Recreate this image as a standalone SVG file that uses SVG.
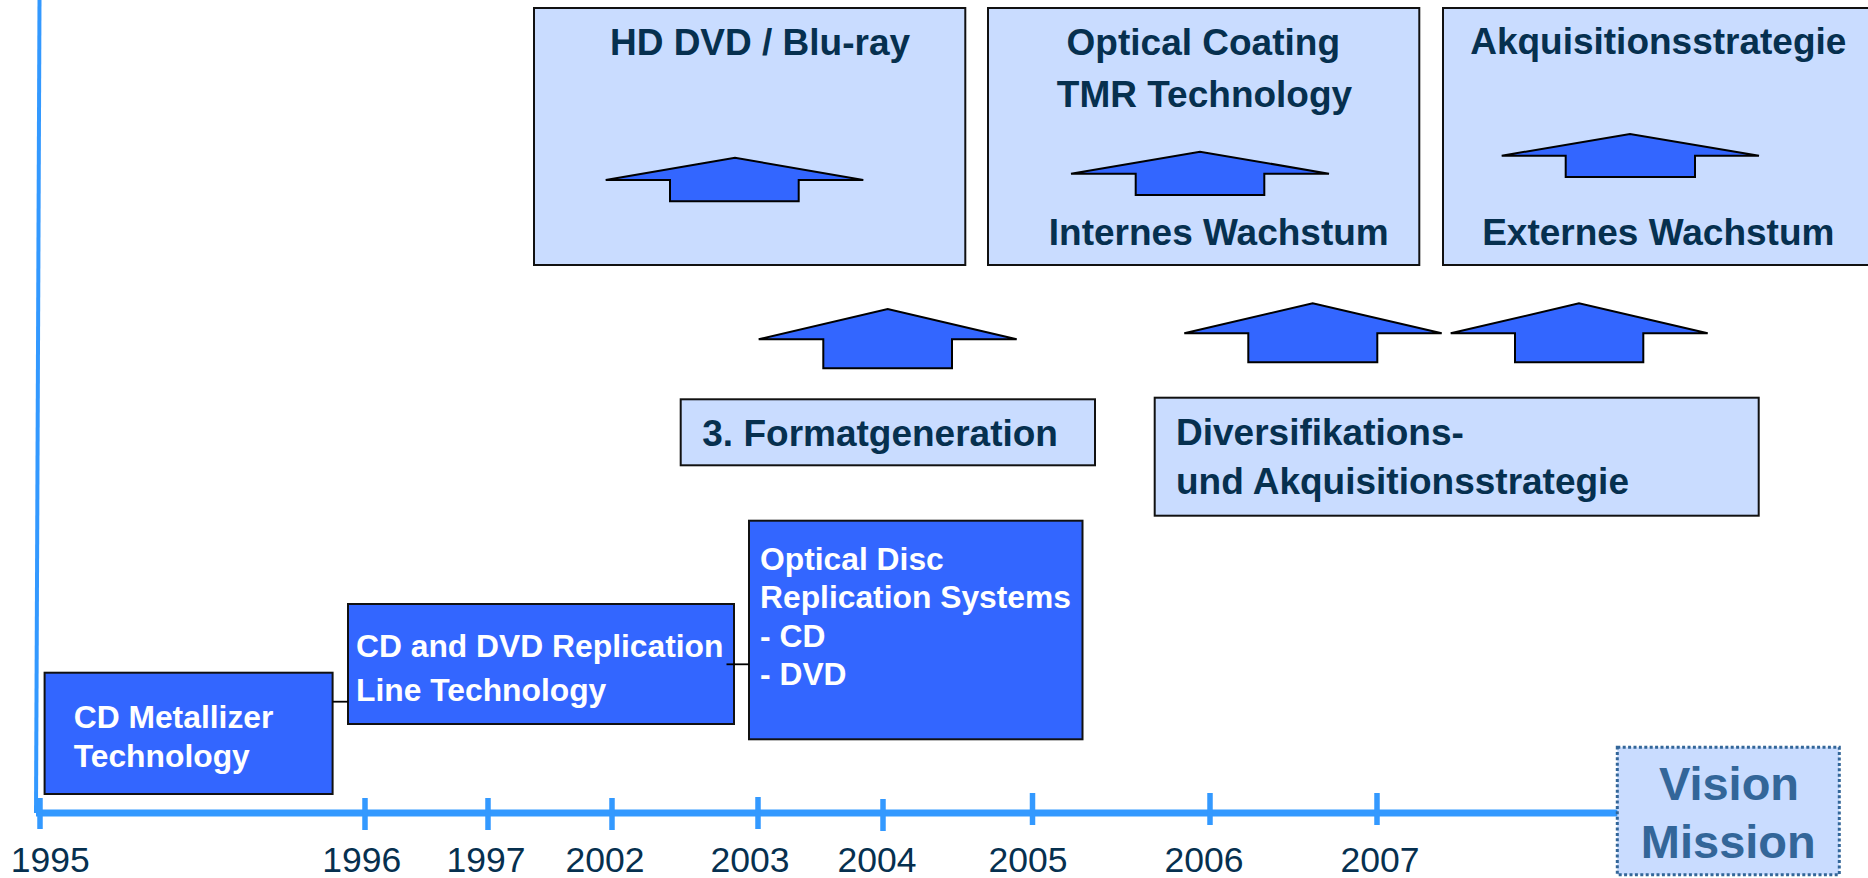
<svg xmlns="http://www.w3.org/2000/svg" width="1868" height="878" viewBox="0 0 1868 878">
<style>
.dark{fill:#3366FF;stroke:#111;stroke-width:2}
.light{fill:#C9DCFF;stroke:#111;stroke-width:2}
.arrow{fill:#3366FF;stroke:#000;stroke-width:2;stroke-linejoin:miter}
.wt{font-family:"Liberation Sans",Arial,sans-serif;font-weight:bold;font-size:31.8px;fill:#FFFFFF}
.nt{font-family:"Liberation Sans",Arial,sans-serif;font-weight:bold;font-size:37px;fill:#06304F}
.yr{font-family:"Liberation Sans",Arial,sans-serif;font-size:35.5px;fill:#06304F;text-anchor:middle}
.vm{font-family:"Liberation Sans",Arial,sans-serif;font-weight:bold;font-size:47px;fill:#336699;text-anchor:middle}
.tick{stroke:#3399FF;stroke-width:5.5}
.conn{stroke:#000;stroke-width:1.8;fill:none}
</style>
<rect width="1868" height="878" fill="#FFFFFF"/>
<g id="axis">
<line x1="39.5" y1="0" x2="36" y2="813" stroke="#3399FF" stroke-width="4"/>
<line x1="36" y1="813" x2="1618" y2="813" stroke="#3399FF" stroke-width="7"/>
<line class="tick" x1="40" y1="798" x2="40" y2="829"/>
<line class="tick" x1="365" y1="798" x2="365" y2="830"/>
<line class="tick" x1="488" y1="798" x2="488" y2="830"/>
<line class="tick" x1="612" y1="798" x2="612" y2="830"/>
<line class="tick" x1="758" y1="797" x2="758" y2="829"/>
<line class="tick" x1="883" y1="799" x2="883" y2="831"/>
<line class="tick" x1="1032.5" y1="793" x2="1032.5" y2="825"/>
<line class="tick" x1="1210" y1="793" x2="1210" y2="825"/>
<line class="tick" x1="1377" y1="793" x2="1377" y2="825"/>
<text class="yr" x="50.3" y="872">1995</text>
<text class="yr" x="361.7" y="872">1996</text>
<text class="yr" x="486" y="872">1997</text>
<text class="yr" x="605" y="872">2002</text>
<text class="yr" x="750" y="872">2003</text>
<text class="yr" x="877" y="872">2004</text>
<text class="yr" x="1028" y="872">2005</text>
<text class="yr" x="1204" y="872">2006</text>
<text class="yr" x="1380" y="872">2007</text>
</g>
<g id="node-cd-metallizer">
<rect class="dark" x="44.6" y="672.7" width="288" height="121.3"/>
<text class="wt" x="73.7" y="728">CD Metallizer</text>
<text class="wt" x="73.7" y="766.5">Technology</text>
</g>
<g id="node-cd-dvd-replication">
<rect class="dark" x="348" y="604" width="386" height="120"/>
<text class="wt" x="356" y="657">CD and DVD Replication</text>
<text class="wt" x="356" y="701">Line Technology</text>
</g>
<g id="node-optical-disc">
<rect class="dark" x="749" y="520.7" width="333.5" height="218.6"/>
<text class="wt" x="760" y="570">Optical Disc</text>
<text class="wt" x="760" y="608">Replication Systems</text>
<text class="wt" x="760" y="646.5">- CD</text>
<text class="wt" x="760" y="684.5">- DVD</text>
</g>
<g id="node-formatgeneration">
<rect class="light" x="680.7" y="399.3" width="414.3" height="66"/>
<text class="nt" x="702.3" y="446">3. Formatgeneration</text>
</g>
<g id="node-diversifikation">
<rect class="light" x="1154.7" y="397.7" width="604" height="118"/>
<text class="nt" x="1176" y="445.3">Diversifikations-</text>
<text class="nt" x="1176" y="494">und Akquisitionsstrategie</text>
</g>
<g id="node-hddvd">
<rect class="light" x="534" y="8" width="431.3" height="257"/>
<text class="nt" x="760" y="55" text-anchor="middle">HD DVD / Blu-ray</text>
</g>
<g id="node-optical-coating">
<rect class="light" x="988" y="8" width="431.3" height="257"/>
<text class="nt" x="1203.3" y="55" text-anchor="middle">Optical Coating</text>
<text class="nt" x="1204.5" y="106.7" text-anchor="middle">TMR Technology</text>
<text class="nt" x="1218.8" y="245" text-anchor="middle">Internes Wachstum</text>
</g>
<g id="node-akquisition">
<rect class="light" x="1443" y="8" width="440" height="257"/>
<text class="nt" x="1658.3" y="54" text-anchor="middle">Akquisitionsstrategie</text>
<text class="nt" x="1658.3" y="245" text-anchor="middle">Externes Wachstum</text>
</g>
<g id="node-vision">
<rect x="1617.3" y="747.3" width="222" height="127.4" fill="#C9DCFF" stroke="#336699" stroke-width="3" stroke-dasharray="3 2.4"/>
<text class="vm" x="1729" y="800">Vision</text>
<text class="vm" x="1728.3" y="858">Mission</text>
</g>
<g id="connectors">
<line class="conn" x1="332.6" y1="701.7" x2="348" y2="701.7"/>
<line class="conn" x1="726.5" y1="664.3" x2="749" y2="664.3"/>
<polygon class="arrow" points="605.7,180 735,157.7 863.3,180 798.7,180 798.7,201.3 670,201.3 670,180"/>
<polygon class="arrow" points="1071,173.7 1200,151.7 1329,173.7 1264.3,173.7 1264.3,195 1135.7,195 1135.7,173.7"/>
<polygon class="arrow" points="1501.7,155.7 1630,134 1759,155.7 1695,155.7 1695,177 1565.7,177 1565.7,155.7"/>
<polygon class="arrow" points="758.7,339.3 887.7,309 1016.7,339.3 952,339.3 952,368.3 823.3,368.3 823.3,339.3"/>
<polygon class="arrow" points="1184.3,333.3 1312.7,303.3 1441.7,333.3 1377.3,333.3 1377.3,362.3 1248.3,362.3 1248.3,333.3"/>
<polygon class="arrow" points="1450.7,333.3 1579,303.3 1707.7,333.3 1643.3,333.3 1643.3,362.3 1515,362.3 1515,333.3"/>
</g>
</svg>
